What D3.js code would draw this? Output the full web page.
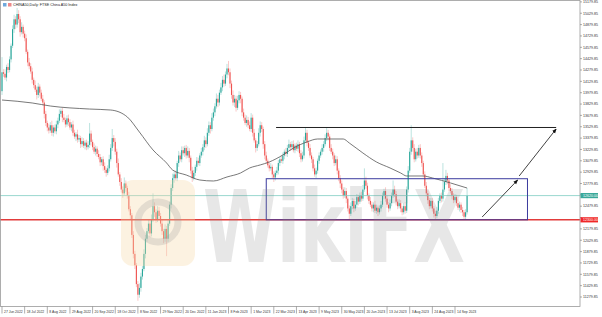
<!DOCTYPE html>
<html>
<head>
<meta charset="utf-8">
<script src="https://cdn.jsdelivr.net/npm/d3@7/dist/d3.min.js"></script>
<style>
  body { margin: 0; background: #fff; }
  svg { display: block; font-family: "Liberation Sans", Arial, sans-serif; }
</style>
</head>
<body>
<svg id="chart" width="602" height="317"></svg>
<script>
// daily closes, one per trading day
const firstOpen = 14000;
const closes = [
  14250, 14230, 14180, 14320, 14280, 14420, 14600, 14820, 14950, 14880, 15020, 14950, 14780, 14850, 14760,
  14700, 14520, 14380, 14330, 14260, 14150, 14080, 14020, 13950, 14060, 13980, 13900, 13850, 13700, 13580,
  13520, 13480, 13550, 13450, 13520, 13470, 13560, 13610, 13700, 13740, 13650, 13620, 13560, 13640, 13590,
  13520, 13560, 13450, 13400, 13430, 13360, 13380, 13300, 13340, 13280, 13320, 13260, 13290, 13440, 13330,
  13260, 13200, 13240, 13170, 13130, 13060, 13100, 13010, 12960, 12920, 12980, 13100, 13250, 13380, 13330,
  13200, 13050, 12900, 12800, 12700, 12650, 12780, 12720, 12620, 12440, 12360, 12100, 11850, 11700, 11450,
  11310, 11400, 11550, 11650, 11850, 12050, 12150, 12250, 12120, 12300, 12480, 12400, 12300, 12420, 12350,
  12250, 12150, 12050, 12180, 12050, 12250, 12500, 12720, 12850, 12900, 12850, 13050, 13150, 13100, 13220,
  13180, 13250, 13150, 13210, 13120, 12950, 12850, 12920, 13000, 13080, 13050, 13150, 13200, 13260, 13350,
  13300, 13450, 13550, 13500, 13650, 13720, 13800, 13900, 13850, 13980, 14050, 14150, 14100, 14220, 14300,
  14250, 14100, 13950, 13850, 13900, 13780, 13880, 13950, 13900, 13720, 13650, 13580, 13620, 13550, 13500,
  13650, 13450, 13350, 13250, 13300, 13450, 13550, 13500, 13300, 13150, 13080, 13020, 12980, 13000, 12900,
  12860, 12920, 12950, 13050, 13100, 13080, 13150, 13200, 13170, 13250, 13300, 13260, 13300, 13220, 13280,
  13240, 13300, 13180, 13100, 13150, 13350, 13450, 13320, 13250, 13150, 13100, 12980, 12900, 12950, 13080,
  13150, 13200, 13250, 13300, 13380, 13450, 13400, 13250, 13200, 13150, 13050, 13100, 12950, 12850, 12780,
  12700, 12620, 12680, 12580, 12450, 12380, 12480, 12550, 12450, 12500, 12600, 12540, 12620, 12580, 12700,
  12820, 12750, 12620, 12550, 12500, 12450, 12500, 12420, 12460, 12400, 12450, 12500, 12620, 12680, 12580,
  12500, 12450, 12520, 12620, 12700, 12640, 12540, 12480, 12520, 12450, 12400, 12480, 12420, 12700, 12950,
  13200, 13350, 13250, 13100, 13200, 13150, 13250, 13150, 13050, 12900, 12750, 12650, 12560, 12480, 12550,
  12450, 12380, 12350, 12420, 12550, 12620, 12580, 12700, 12800, 12880, 12820, 12720, 12680, 12620, 12560,
  12600, 12520, 12460, 12500, 12430, 12400, 12340, 12400, 12620
];
// wick length above / below the body, in index points
const wickUp = [
  200, 40, 60, 30, 50, 40, 30, 50, 60, 40, 80, 50, 40, 60, 30,
  40, 50, 30, 60, 40, 50, 30, 60, 40, 50, 30, 40, 50, 30, 40,
  30, 50, 40, 60, 30, 40, 50, 40, 60, 30, 40, 50, 30, 40, 50,
  40, 30, 50, 40, 30, 60, 40, 30, 50, 40, 30, 40, 50, 140, 40,
  30, 50, 40, 30, 50, 40, 30, 40, 50, 30, 40, 60, 50, 120, 40,
  50, 40, 60, 30, 50, 40, 80, 40, 30, 50, 40, 30, 50, 40, 30,
  40, 60, 50, 40, 60, 50, 40, 60, 50, 70, 170, 50, 40, 60, 50,
  40, 50, 30, 60, 40, 50, 40, 50, 60, 40, 50, 30, 60, 40, 50,
  50, 30, 40, 60, 40, 30, 50, 40, 30, 50, 40, 30, 50, 40, 60,
  40, 60, 50, 40, 60, 50, 40, 70, 50, 40, 60, 50, 70, 40, 60,
  100, 50, 40, 60, 50, 40, 60, 50, 40, 30, 50, 40, 60, 40, 50,
  60, 40, 50, 30, 40, 60, 50, 40, 30, 40, 50, 30, 40, 50, 30,
  40, 30, 50, 40, 30, 50, 40, 30, 50, 40, 60, 30, 40, 50, 30,
  40, 50, 30, 40, 50, 50, 70, 40, 30, 50, 40, 30, 50, 40, 30,
  40, 30, 50, 40, 50, 70, 40, 30, 50, 40, 30, 50, 40, 30, 40,
  40, 30, 50, 40, 30, 40, 50, 40, 30, 50, 40, 30, 40, 50, 60,
  160, 50, 40, 30, 50, 40, 30, 50, 40, 30, 40, 50, 40, 30, 50,
  40, 30, 50, 40, 120, 50, 40, 30, 50, 40, 30, 40, 50, 40, 60,
  50, 200, 40, 50, 40, 50, 40, 50, 40, 30, 40, 50, 40, 30, 40,
  40, 30, 40, 50, 40, 30, 40, 350, 50, 80, 40, 30, 50, 40, 30,
  40, 30, 50, 40, 30, 40, 30, 40, 100
];
const wickDn = [
  50, 40, 30, 50, 40, 30, 40, 30, 50, 60, 40, 50, 60, 30, 50,
  40, 30, 50, 40, 30, 50, 40, 30, 60, 40, 50, 30, 40, 60, 40,
  50, 40, 30, 40, 50, 30, 40, 50, 30, 40, 60, 30, 40, 30, 50,
  30, 50, 40, 30, 60, 40, 30, 50, 40, 30, 50, 40, 30, 40, 50,
  40, 30, 50, 40, 30, 50, 40, 60, 40, 50, 30, 40, 30, 40, 60,
  40, 60, 30, 50, 40, 60, 30, 50, 40, 30, 50, 40, 60, 50, 40,
  80, 40, 50, 40, 30, 60, 40, 30, 50, 40, 30, 60, 40, 30, 50,
  40, 50, 60, 40, 230, 40, 30, 50, 40, 60, 30, 40, 50, 30, 40,
  30, 50, 40, 30, 60, 40, 50, 30, 40, 50, 30, 40, 30, 50, 40,
  50, 30, 40, 60, 30, 40, 50, 30, 60, 40, 30, 50, 40, 30, 50,
  40, 60, 50, 40, 60, 50, 30, 40, 60, 50, 40, 30, 50, 40, 30,
  40, 50, 30, 60, 40, 30, 50, 40, 60, 50, 40, 30, 40, 30, 50,
  60, 40, 30, 50, 40, 30, 40, 50, 30, 40, 30, 50, 40, 30, 40,
  30, 40, 50, 40, 30, 40, 30, 50, 40, 30, 50, 40, 30, 50, 40,
  40, 30, 40, 50, 30, 40, 50, 40, 30, 50, 40, 30, 50, 40, 60,
  50, 40, 30, 60, 40, 80, 30, 40, 50, 30, 40, 50, 30, 40, 30,
  30, 40, 50, 40, 30, 40, 50, 30, 40, 50, 30, 40, 30, 50, 40,
  40, 50, 30, 40, 30, 40, 50, 40, 30, 50, 40, 30, 40, 30, 40,
  30, 40, 50, 40, 30, 40, 30, 40, 50, 40, 30, 40, 50, 40, 30,
  40, 50, 50, 30, 40, 30, 50, 40, 30, 40, 50, 40, 30, 50, 40,
  30, 40, 30, 50, 40, 50, 30, 40, 30
];

// moving average, read at a few bars
const maIdx = [0, 20, 32, 58, 72, 83, 91, 100, 109, 113, 122, 131, 140, 149, 158, 164, 171, 177, 186, 193, 202, 209, 217, 226, 230, 239, 248, 257, 264, 268, 279, 285, 297, 308];
const maVal = [13883, 13844, 13804, 13764, 13751, 13659, 13460, 13223, 13051, 12958, 12892, 12826, 12813, 12866, 12919, 12985, 13025, 13064, 13157, 13249, 13329, 13368, 13368, 13368, 13315, 13183, 13064, 12985, 12919, 12879, 12879, 12853, 12787, 12720];

const priceTicks = [11279.85, 11429.85, 11579.85, 11729.85, 11879.85, 12029.85, 12179.85, 12329.85, 12479.85,
  12629.85, 12779.85, 12929.85, 13079.85, 13229.85, 13379.85, 13529.85, 13679.85, 13829.85, 13979.85,
  14129.85, 14279.85, 14429.85, 14579.85, 14729.85, 14879.85, 15029.85, 15179.85];
const dateTickIdx = [0, 15, 30, 45, 60, 75, 90, 105, 120, 135, 150, 165, 180, 195, 210, 225, 240, 255, 270, 285, 300];
const dateLabels = ["27 Jun 2022", "18 Jul 2022", "8 Aug 2022", "29 Aug 2022", "20 Sep 2022", "18 Oct 2022",
  "8 Nov 2022", "29 Nov 2022", "20 Dec 2022", "11 Jan 2023", "8 Feb 2023", "1 Mar 2023", "22 Mar 2023",
  "13 Apr 2023", "9 May 2023", "30 May 2023", "20 Jun 2023", "13 Jul 2023", "3 Aug 2023", "24 Aug 2023",
  "14 Sep 2023"];

const supportLevel = 12300;
const lastPrice = 12620;
const resistLevel = 13520;
const boxTop = 12843;
const boxBars = [175, 348];
const resistBars = [181.5, 367];
const arrows = [
  { from: [318, 12337], to: [341.5, 12826] },
  { from: [342.5, 12879], to: [367, 13500] }
];

const W = 602, H = 317;
const plotR = 580, plotB = 306.5;
const tiny = 0.5; // small labels are set at double size and scaled down

const svg = d3.select("#chart");
svg.append("rect").attr("width", W).attr("height", H).attr("fill", "#fff");

const x = d3.scaleLinear().domain([0, 300]).range([2, 455]);
const y = d3.scaleLinear().domain([11279.85, 15179.85]).range([297, 1.9]);

svg.append("defs").append("clipPath").attr("id", "plot")
  .append("rect").attr("x", 0).attr("y", 0).attr("width", plotR).attr("height", plotB);
svg.select("defs").append("marker")
  .attr("id", "head").attr("viewBox", "0 0 8 8").attr("refX", 7).attr("refY", 4)
  .attr("markerWidth", 6).attr("markerHeight", 6).attr("orient", "auto")
  .append("path").attr("d", "M0,0.8 L8,4 L0,7.2 Z").attr("fill", "#111");

const plot = svg.append("g").attr("clip-path", "url(#plot)");

// candles
const bars = closes.map((c, i) => {
  const o = i === 0 ? firstOpen : closes[i - 1];
  return { i, o, c, h: Math.max(o, c) + wickUp[i], l: Math.min(o, c) - wickDn[i] };
});
const bull = "#26a69a", bear = "#ef5350";

plot.append("g").selectAll("line").data(bars).join("line")
  .attr("x1", d => x(d.i)).attr("x2", d => x(d.i))
  .attr("y1", d => y(d.h)).attr("y2", d => y(d.l))
  .attr("stroke", d => d.c >= d.o ? bull : bear)
  .attr("stroke-opacity", 0.45).attr("stroke-width", 0.7);

plot.append("g").selectAll("rect").data(bars).join("rect")
  .attr("x", d => x(d.i) - 0.55).attr("width", 1.1)
  .attr("y", d => y(Math.max(d.o, d.c)))
  .attr("height", d => Math.max(0.7, Math.abs(y(d.o) - y(d.c))))
  .attr("fill", d => d.c >= d.o ? bull : bear);

// moving average
plot.append("path")
  .datum(maIdx.map((d, k) => [d, maVal[k]]))
  .attr("d", d3.line().x(d => x(d[0])).y(d => y(d[1])).curve(d3.curveMonotoneX))
  .attr("fill", "none").attr("stroke", "#555").attr("stroke-width", 0.8);

// last price and support lines
plot.append("line").attr("x1", 0).attr("x2", plotR)
  .attr("y1", y(lastPrice)).attr("y2", y(lastPrice))
  .attr("stroke", "#7fcdc2").attr("stroke-width", 0.8);
plot.append("line").attr("x1", 0).attr("x2", plotR)
  .attr("y1", y(supportLevel)).attr("y2", y(supportLevel))
  .attr("stroke", "#e23b3b").attr("stroke-width", 1.6);

// drawn objects
plot.append("rect")
  .attr("x", x(boxBars[0])).attr("width", x(boxBars[1]) - x(boxBars[0]))
  .attr("y", y(boxTop)).attr("height", y(supportLevel) - y(boxTop))
  .attr("fill", "none").attr("stroke", "#3b3b9e").attr("stroke-width", 1);
plot.append("line")
  .attr("x1", x(resistBars[0])).attr("x2", x(resistBars[1]))
  .attr("y1", y(resistLevel)).attr("y2", y(resistLevel))
  .attr("stroke", "#222").attr("stroke-width", 1);
plot.append("g").selectAll("line").data(arrows).join("line")
  .attr("x1", d => x(d.from[0])).attr("y1", d => y(d.from[1]))
  .attr("x2", d => x(d.to[0])).attr("y2", d => y(d.to[1]))
  .attr("stroke", "#111").attr("stroke-width", 0.8)
  .attr("marker-end", "url(#head)");

// watermark
const wm = svg.append("g").attr("pointer-events", "none");
wm.append("rect").attr("x", 121).attr("y", 180).attr("width", 74).attr("height", 86).attr("rx", 12)
  .attr("fill", "#f5d9a8").attr("opacity", 0.35);
wm.append("circle").attr("cx", 158).attr("cy", 222).attr("r", 20)
  .attr("fill", "none").attr("stroke", "#9a9a9a").attr("stroke-width", 7).attr("opacity", 0.25);
wm.append("text").attr("x", 203).attr("y", 262)
  .attr("font-family", "DejaVu Sans").attr("font-weight", "bold").attr("font-size", 100)
  .attr("textLength", 262).attr("lengthAdjust", "spacingAndGlyphs")
  .attr("fill", "#8a8a8a").attr("opacity", 0.2).text("WikiFX");

// frame
svg.append("rect").attr("x", 0.5).attr("y", 0.5).attr("width", plotR - 0.5).attr("height", plotB - 0.5)
  .attr("fill", "none").attr("stroke", "#9a9a9a").attr("stroke-width", 0.8);

// price axis; labels hidden under the two price tags are left out
const tags = [lastPrice, supportLevel];
const shownTicks = priceTicks.filter(v => tags.every(t => Math.abs(y(v) - y(t)) > 5));
const yAxis = svg.append("g").attr("fill", "#333");
yAxis.selectAll("line").data(priceTicks).join("line")
  .attr("x1", plotR).attr("x2", plotR + 2).attr("y1", d => y(d)).attr("y2", d => y(d))
  .attr("stroke", "#777").attr("stroke-width", 0.6);
yAxis.selectAll("text").data(shownTicks).join("text")
  .attr("transform", d => `translate(${plotR + 3},${y(d)}) scale(${tiny})`)
  .attr("font-size", 7.2).attr("dy", "0.35em")
  .text(d => d.toFixed(2));

function priceTag(v, color) {
  const g = svg.append("g");
  g.append("rect").attr("x", plotR + 0.5).attr("y", y(v) - 2.6).attr("width", 17.5).attr("height", 5.2)
    .attr("fill", color);
  g.append("text").attr("transform", `translate(${plotR + 3},${y(v)}) scale(${tiny})`)
    .attr("dy", "0.35em").attr("font-size", 7.2).attr("fill", "#fff").text(v.toFixed(2));
}
priceTag(lastPrice, "#3aa89a");
priceTag(supportLevel, "#f02828");

// date axis
const xAxis = svg.append("g").attr("fill", "#333");
xAxis.selectAll("line").data(dateTickIdx).join("line")
  .attr("x1", d => x(d)).attr("x2", d => x(d)).attr("y1", plotB).attr("y2", plotB + 7)
  .attr("stroke", "#777").attr("stroke-width", 0.6);
xAxis.selectAll("text").data(dateTickIdx).join("text")
  .attr("transform", d => `translate(${x(d) + 2},${plotB + 6}) scale(${tiny})`)
  .attr("font-size", 6.8)
  .text((d, k) => dateLabels[k]);

// title
svg.append("rect").attr("x", 3).attr("y", 3).attr("width", 3.5).attr("height", 3.5).attr("fill", "#6fa8dc");
svg.append("rect").attr("x", 8).attr("y", 3).attr("width", 3.5).attr("height", 3.5).attr("fill", "#e88");
svg.append("text").attr("transform", `translate(13,6.3) scale(${tiny})`)
  .attr("font-size", 7.4).attr("fill", "#222")
  .text("CHINA50,Daily:  FTSE China A50 Index");
</script>
</body>
</html>
